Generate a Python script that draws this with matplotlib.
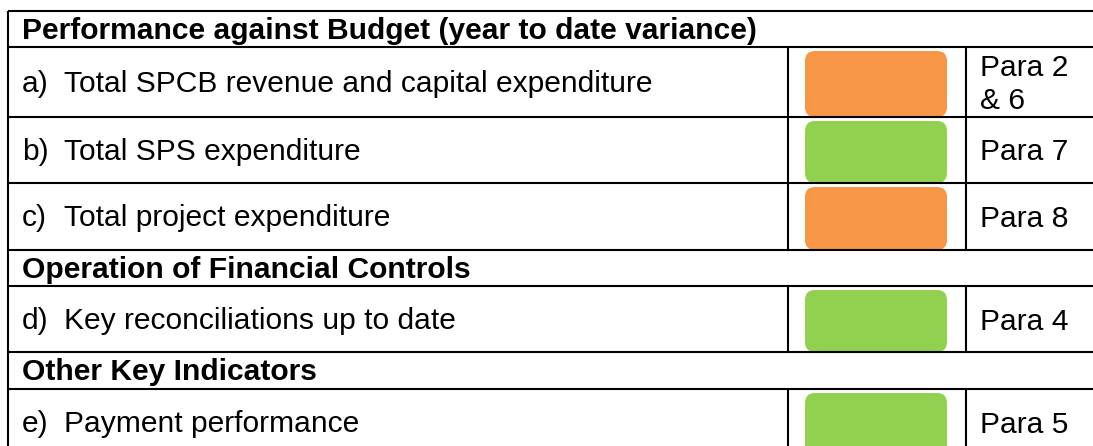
import matplotlib
matplotlib.use("Agg")

import matplotlib.pyplot as plt
from matplotlib.patches import FancyBboxPatch

plt.rcParams["font.family"] = ["Liberation Sans", "DejaVu Sans"]

# ── table content ──────────────────────────────────────────────
SECTIONS = [
    "Performance against Budget (year to date variance)",
    "Operation of Financial Controls",
    "Other Key Indicators",
]
ITEM_KEYS = ["a)", "b)", "c)", "d)", "e)"]
ITEM_TEXT = [
    "Total SPCB revenue and capital expenditure",
    "Total SPS expenditure",
    "Total project expenditure",
    "Key reconciliations up to date",
    "Payment performance",
]
ITEM_STATUS = ["amber", "green", "amber", "green", "green"]
ITEM_REFS = ["Para 2\n& 6", "Para 7", "Para 8", "Para 4", "Para 5"]
ITEM_SECTION = [0, 0, 0, 1, 2]

STATUS_COLORS = {"amber": "#F79646", "green": "#92D050"}

# ── layout (pixels) ────────────────────────────────────────────
W, H = 1093, 446
ROW_EDGES = [11, 47, 117, 183, 250, 286, 352, 389, 456]
X_LEFT = 8
X_STATUS = 788
X_REF = 966
X_RIGHT = 1100
BOX_X0, BOX_X1 = 805, 947
LW = 1.5
BODY_SIZE = 21.6
HEAD_SIZE = 21.6


def build_rows():
    rows = []
    last = None
    for i, sec in enumerate(ITEM_SECTION):
        if sec != last:
            rows.append(("section", sec))
            last = sec
        rows.append(("item", i))
    return rows


def main():
    fig = plt.figure(figsize=(W / 100, H / 100), dpi=100)
    ax = fig.add_axes([0, 0, 1, 1])
    ax.set_xlim(0, W)
    ax.set_ylim(H, 0)
    ax.axis("off")

    rows = build_rows()
    for r, (kind, idx) in enumerate(rows):
        y0, y1 = ROW_EDGES[r], ROW_EDGES[r + 1]
        yc = (y0 + y1) / 2
        ax.plot([X_LEFT, X_RIGHT], [y0, y0], color="black", lw=LW,
                solid_capstyle="butt", zorder=3)

        if kind == "section":
            ax.text(22, yc + 2, SECTIONS[idx], fontsize=HEAD_SIZE,
                    fontweight="bold", va="center", ha="left")
            continue

        ax.plot([X_STATUS, X_STATUS], [y0, y1], color="black", lw=LW,
                solid_capstyle="butt", zorder=3)
        ax.plot([X_REF, X_REF], [y0, y1], color="black", lw=LW,
                solid_capstyle="butt", zorder=3)

        ax.text(22, yc + 2, ITEM_KEYS[idx], fontsize=BODY_SIZE,
                va="center", ha="left")
        ax.text(64, yc + 2, ITEM_TEXT[idx], fontsize=BODY_SIZE,
                va="center", ha="left")
        ax.text(980, yc + 2.5, ITEM_REFS[idx], fontsize=BODY_SIZE,
                va="center", ha="left", linespacing=1.2)

        box = FancyBboxPatch((BOX_X0, y0 + 4), BOX_X1 - BOX_X0, y1 - y0 - 4,
                             boxstyle="round,pad=0,rounding_size=10",
                             facecolor=STATUS_COLORS[ITEM_STATUS[idx]],
                             edgecolor="none", zorder=2)
        ax.add_patch(box)

    ax.plot([X_LEFT, X_LEFT], [ROW_EDGES[0], ROW_EDGES[-1]], color="black",
            lw=LW, solid_capstyle="butt", zorder=3)

    fig.savefig("out.png", dpi=100)
    plt.close(fig)


if __name__ == "__main__":
    main()
